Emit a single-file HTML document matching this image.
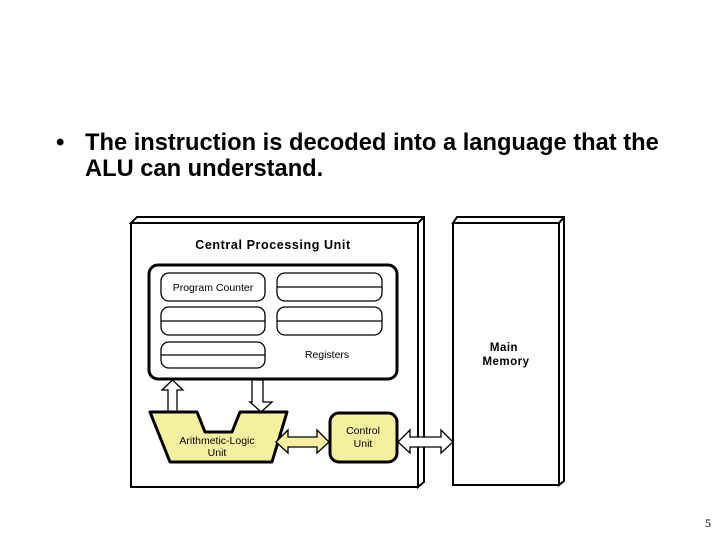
<!DOCTYPE html>
<html><head><style>
body{margin:0;width:720px;height:540px;background:#fff;overflow:hidden;position:relative;font-family:"Liberation Sans",sans-serif}
.b{position:absolute;left:56px;top:130px;font-size:24px;font-weight:bold;color:#000;line-height:26px}
.t{position:absolute;left:85px;top:130px;font-size:23.7px;font-weight:bold;line-height:26px;white-space:nowrap}
.n{position:absolute;left:705px;top:516px;font-family:"Liberation Serif",serif;font-size:12px}
</style></head><body>
<div class="b">•</div>
<div class="t">The instruction is decoded into a language that the<br>ALU can understand.</div>
<svg width="720" height="540" style="position:absolute;left:0;top:0" font-family="Liberation Sans, sans-serif">
<g stroke="#000" stroke-width="2" fill="#fff">
<path d="M131,223 L137,217 L424,217 L424,482 L418,487 L418,223 Z"/>
<rect x="131" y="223" width="287" height="264"/>
<line x1="418" y1="223" x2="424" y2="217"/>
<path d="M453,223 L457,217 L564,217 L564,481 L559,485 L559,223 Z"/>
<rect x="453" y="223" width="106" height="262"/>
<line x1="559" y1="223" x2="564" y2="217"/>
</g>
<text x="273" y="249" font-size="12.5" font-weight="bold" text-anchor="middle" letter-spacing="0.6">Central Processing Unit</text>
<rect x="149" y="265" width="248" height="114" rx="9" fill="#fff" stroke="#000" stroke-width="3"/>
<g fill="#fff" stroke="#000" stroke-width="1.3">
<rect x="161" y="273" width="104" height="28" rx="8"/>
<rect x="277" y="273" width="105" height="28" rx="8"/><line x1="277" y1="287" x2="382" y2="287"/>
<rect x="161" y="307" width="104" height="28" rx="8"/><line x1="161" y1="321" x2="265" y2="321"/>
<rect x="277" y="307" width="105" height="28" rx="8"/><line x1="277" y1="321" x2="382" y2="321"/>
<rect x="161" y="342" width="104" height="26" rx="8"/><line x1="161" y1="355" x2="265" y2="355"/>
</g>
<text x="213" y="291" font-size="10.5" text-anchor="middle">Program Counter</text>
<text x="327" y="358" font-size="10.5" text-anchor="middle">Registers</text>
<text x="504" y="351" font-size="11.5" font-weight="bold" text-anchor="middle" letter-spacing="0.5">Main</text>
<text x="506" y="365" font-size="11.5" font-weight="bold" text-anchor="middle" letter-spacing="0.5">Memory</text>
<g stroke="#000" stroke-width="1.3" fill="#fff">
<path d="M168,412 L168,390 L162,390 L172.5,380 L183,390 L177,390 L177,412 Z"/>
<path d="M252,380 L252,402 L250,402 L261,412 L272,402 L263,402 L263,380 Z"/>
</g>
<path d="M150,412 L197,412 L205,432 L232,432 L240,412 L287,412 L272,462 L170,462 Z" fill="#f5f0a0" stroke="#000" stroke-width="3" stroke-linejoin="round"/>
<text x="217" y="444" font-size="10.5" text-anchor="middle">Arithmetic-Logic</text>
<text x="217" y="456" font-size="10.5" text-anchor="middle">Unit</text>
<rect x="330" y="413" width="67" height="49" rx="9" fill="#f5f0a0" stroke="#000" stroke-width="3"/>
<text x="363" y="434" font-size="10.5" text-anchor="middle">Control</text>
<text x="363" y="447" font-size="10.5" text-anchor="middle">Unit</text>
<path d="M276,442 L288,430 L288,437 L317,437 L317,430 L329,442 L317,453 L317,447 L288,447 L288,453 Z" fill="#f5f0a0" stroke="#000" stroke-width="1.3"/>
<path d="M398,442 L410,430 L410,437 L441,437 L441,430 L453,442 L441,453 L441,447 L410,447 L410,453 Z" fill="#fff" stroke="#000" stroke-width="1.3"/>
</svg>
<div class="n">5</div>
</body></html>
